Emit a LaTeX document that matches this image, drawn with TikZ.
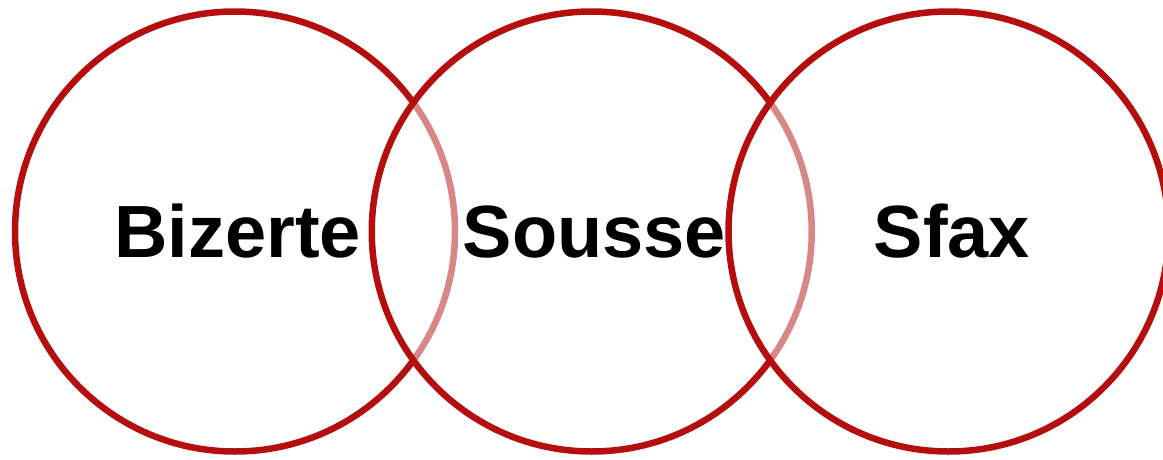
\documentclass[tikz,border=0pt]{standalone}
\usepackage{fontspec}
\setmainfont{Liberation Sans}
\definecolor{ringred}{RGB}{180,14,14}
\begin{document}
\begin{tikzpicture}[x=1pt,y=1pt,
  ring/.style={draw=ringred,line width=6.5pt,fill=white,fill opacity=0.5,draw opacity=1},
  city/.style={anchor=base,font=\fontsize{74}{80}\selectfont\bfseries,text=black,inner sep=0pt}]
\useasboundingbox (0,0) rectangle (1163,-459);
\clip (0,0) rectangle (1163,-459);
\fill[white] (0,0) rectangle (1163,-459);
\coordinate (c1) at (235,-231.5);
\coordinate (c2) at (591.75,-231.5);
\coordinate (c3) at (948.5,-231.5);
\draw[ring] (c1) circle[radius=220];
\draw[ring] (c2) circle[radius=220];
\draw[ring] (c3) circle[radius=220];
\node[city] (bizerte) at (237.5,-257) {Bizerte};
\node[city] (sousse) at (594.5,-257) {Sousse};
\node[city] (sfax) at (952,-257) {Sfax};
\end{tikzpicture}
\end{document}
